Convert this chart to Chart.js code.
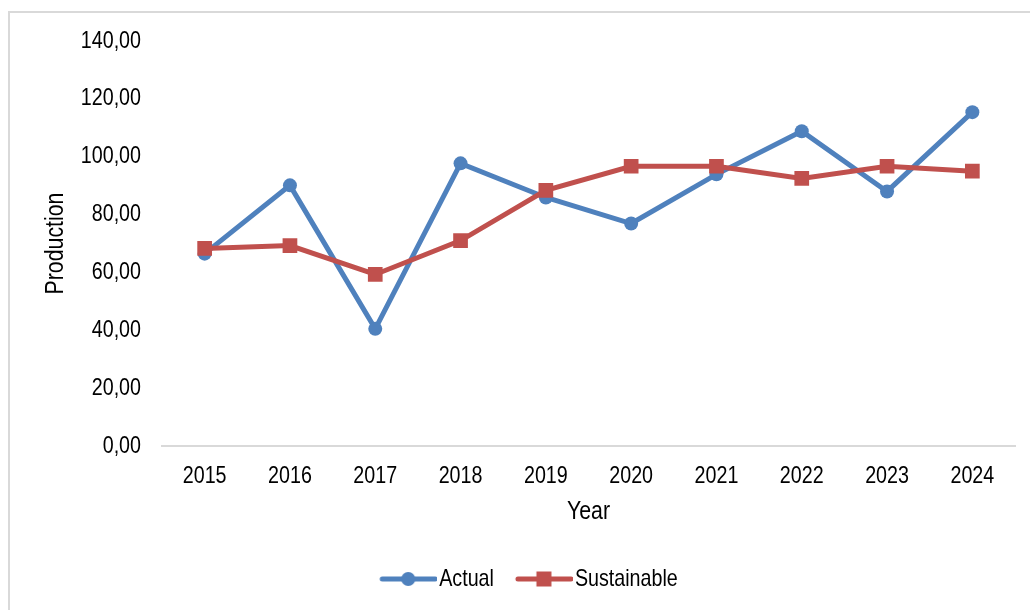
<!DOCTYPE html>
<html>
<head>
<meta charset="utf-8">
<script src="https://cdn.jsdelivr.net/npm/chart.js@4/dist/chart.umd.min.js"></script>
<style>
  html, body { margin: 0; padding: 0; background: #fff; overflow: hidden; width: 1030px; height: 610px; }
  #wrap { position: absolute; left: 8px; top: 11px; width: 1100px; height: 700px; border: 2px solid #d9d9d9; box-sizing: content-box; }
  #box { position: absolute; left: 0; top: 0; width: 1040px; height: 600px; }
</style>
</head>
<body>
<div id="wrap"><div id="box"><canvas id="c"></canvas></div></div>
<script>
const years = ['2015','2016','2017','2018','2019','2020','2021','2022','2023','2024'];
const actual = [66.5, 90.1, 40.5, 97.7, 85.9, 76.9, 93.9, 108.8, 88.0, 115.4];
const sustainable = [68.3, 69.3, 59.3, 71.0, 88.4, 96.7, 96.7, 92.5, 96.7, 95.0];
const seriesNames = ['Actual', 'Sustainable'];
const yTicks = [0, 20, 40, 60, 80, 100, 120, 140];

const BLUE = '#4f81bd';
const RED = '#c0504d';
const FONT = "'Liberation Sans', Arial, sans-serif";

// Emulate a narrow (Arial Narrow-like) face by compressing text horizontally.
const SX = 0.82;
const canvas = document.getElementById('c');
const cctx = canvas.getContext('2d');
const P = CanvasRenderingContext2D.prototype;
cctx.fillText = function (t, x, y, mw) {
  this.save();
  this.translate(x, y);
  this.scale(SX, 1);
  if (mw === undefined || mw === null) P.fillText.call(this, t, 0, 0);
  else P.fillText.call(this, t, 0, 0, mw / SX);
  this.restore();
};
cctx.measureText = function (t) {
  const m = P.measureText.call(this, t);
  return {
    width: m.width * SX,
    actualBoundingBoxAscent: m.actualBoundingBoxAscent,
    actualBoundingBoxDescent: m.actualBoundingBoxDescent,
    actualBoundingBoxLeft: m.actualBoundingBoxLeft * SX,
    actualBoundingBoxRight: m.actualBoundingBoxRight * SX,
    fontBoundingBoxAscent: m.fontBoundingBoxAscent,
    fontBoundingBoxDescent: m.fontBoundingBoxDescent
  };
};

function makeIcon(color, style) {
  const c = document.createElement('canvas');
  c.width = 67; c.height = 16;
  const g = c.getContext('2d');
  g.strokeStyle = color; g.lineWidth = 5; g.lineCap = 'round';
  g.beginPath(); g.moveTo(12, 8); g.lineTo(65, 8); g.stroke();
  g.fillStyle = color;
  const cx = 10 + 28;
  if (style === 'circle') { g.beginPath(); g.arc(cx, 8, 7, 0, Math.PI * 2); g.fill(); }
  else { g.fillRect(cx - 7.5, 0.5, 15, 15); }
  return c;
}
const icons = [makeIcon(BLUE, 'circle'), makeIcon(RED, 'rect')];

Chart.defaults.font.family = FONT;
Chart.defaults.color = '#000';

new Chart(canvas, {
  type: 'line',
  data: {
    labels: years,
    datasets: [
      { label: seriesNames[0], data: actual, borderColor: BLUE, backgroundColor: BLUE, borderWidth: 5,
        pointStyle: 'circle', pointRadius: 7, pointBorderWidth: 0, pointBackgroundColor: BLUE, tension: 0, order: 2 },
      { label: seriesNames[1], data: sustainable, borderColor: RED, backgroundColor: RED, borderWidth: 5,
        pointStyle: 'rect', pointRadius: 10.4, pointBorderWidth: 0, pointBackgroundColor: RED, tension: 0, order: 1 }
    ]
  },
  options: {
    responsive: true, maintainAspectRatio: false, animation: false,
    devicePixelRatio: 1,
    layout: { autoPadding: false, padding: { left: 33, right: 35, top: 28, bottom: 12 } },
    plugins: {
      tooltip: { enabled: false },
      legend: {
        position: 'bottom', align: 'center',
        labels: {
          usePointStyle: true, pointStyleWidth: 47, padding: 22,
          font: { size: 24 }, color: '#000',
          generateLabels(chart) {
            return chart.data.datasets.map((ds, i) => ({
              text: ds.label, pointStyle: icons[i], fillStyle: ds.borderColor, strokeStyle: ds.borderColor,
              lineWidth: 0, hidden: false, datasetIndex: i, fontColor: '#000'
            }));
          }
        }
      }
    },
    scales: {
      x: {
        offset: true,
        grid: { display: false, drawTicks: false },
        border: { display: true, color: '#d9d9d9', width: 2 },
        ticks: { padding: 16, font: { size: 24 }, color: '#000' },
        title: { display: true, text: 'Year', font: { size: 26 }, color: '#000', padding: { top: 5, bottom: 18 } },
        afterFit(s) { s.height = 99; }
      },
      y: {
        min: 0, max: 140,
        grid: { display: false, drawTicks: true, tickLength: 21 },
        border: { display: false },
        afterBuildTicks(s) { s.ticks = yTicks.map(v => ({ value: v })); },
        ticks: { padding: 0, font: { size: 24 }, color: '#000',
          callback: v => v.toFixed(2).replace('.', ',') },
        title: { display: true, text: 'Production', font: { size: 26, lineHeight: 1 }, color: '#000', padding: { top: 0 } },
        afterFit(s) { s.width = 119; }
      }
    }
  }
});
</script>
</body>
</html>
